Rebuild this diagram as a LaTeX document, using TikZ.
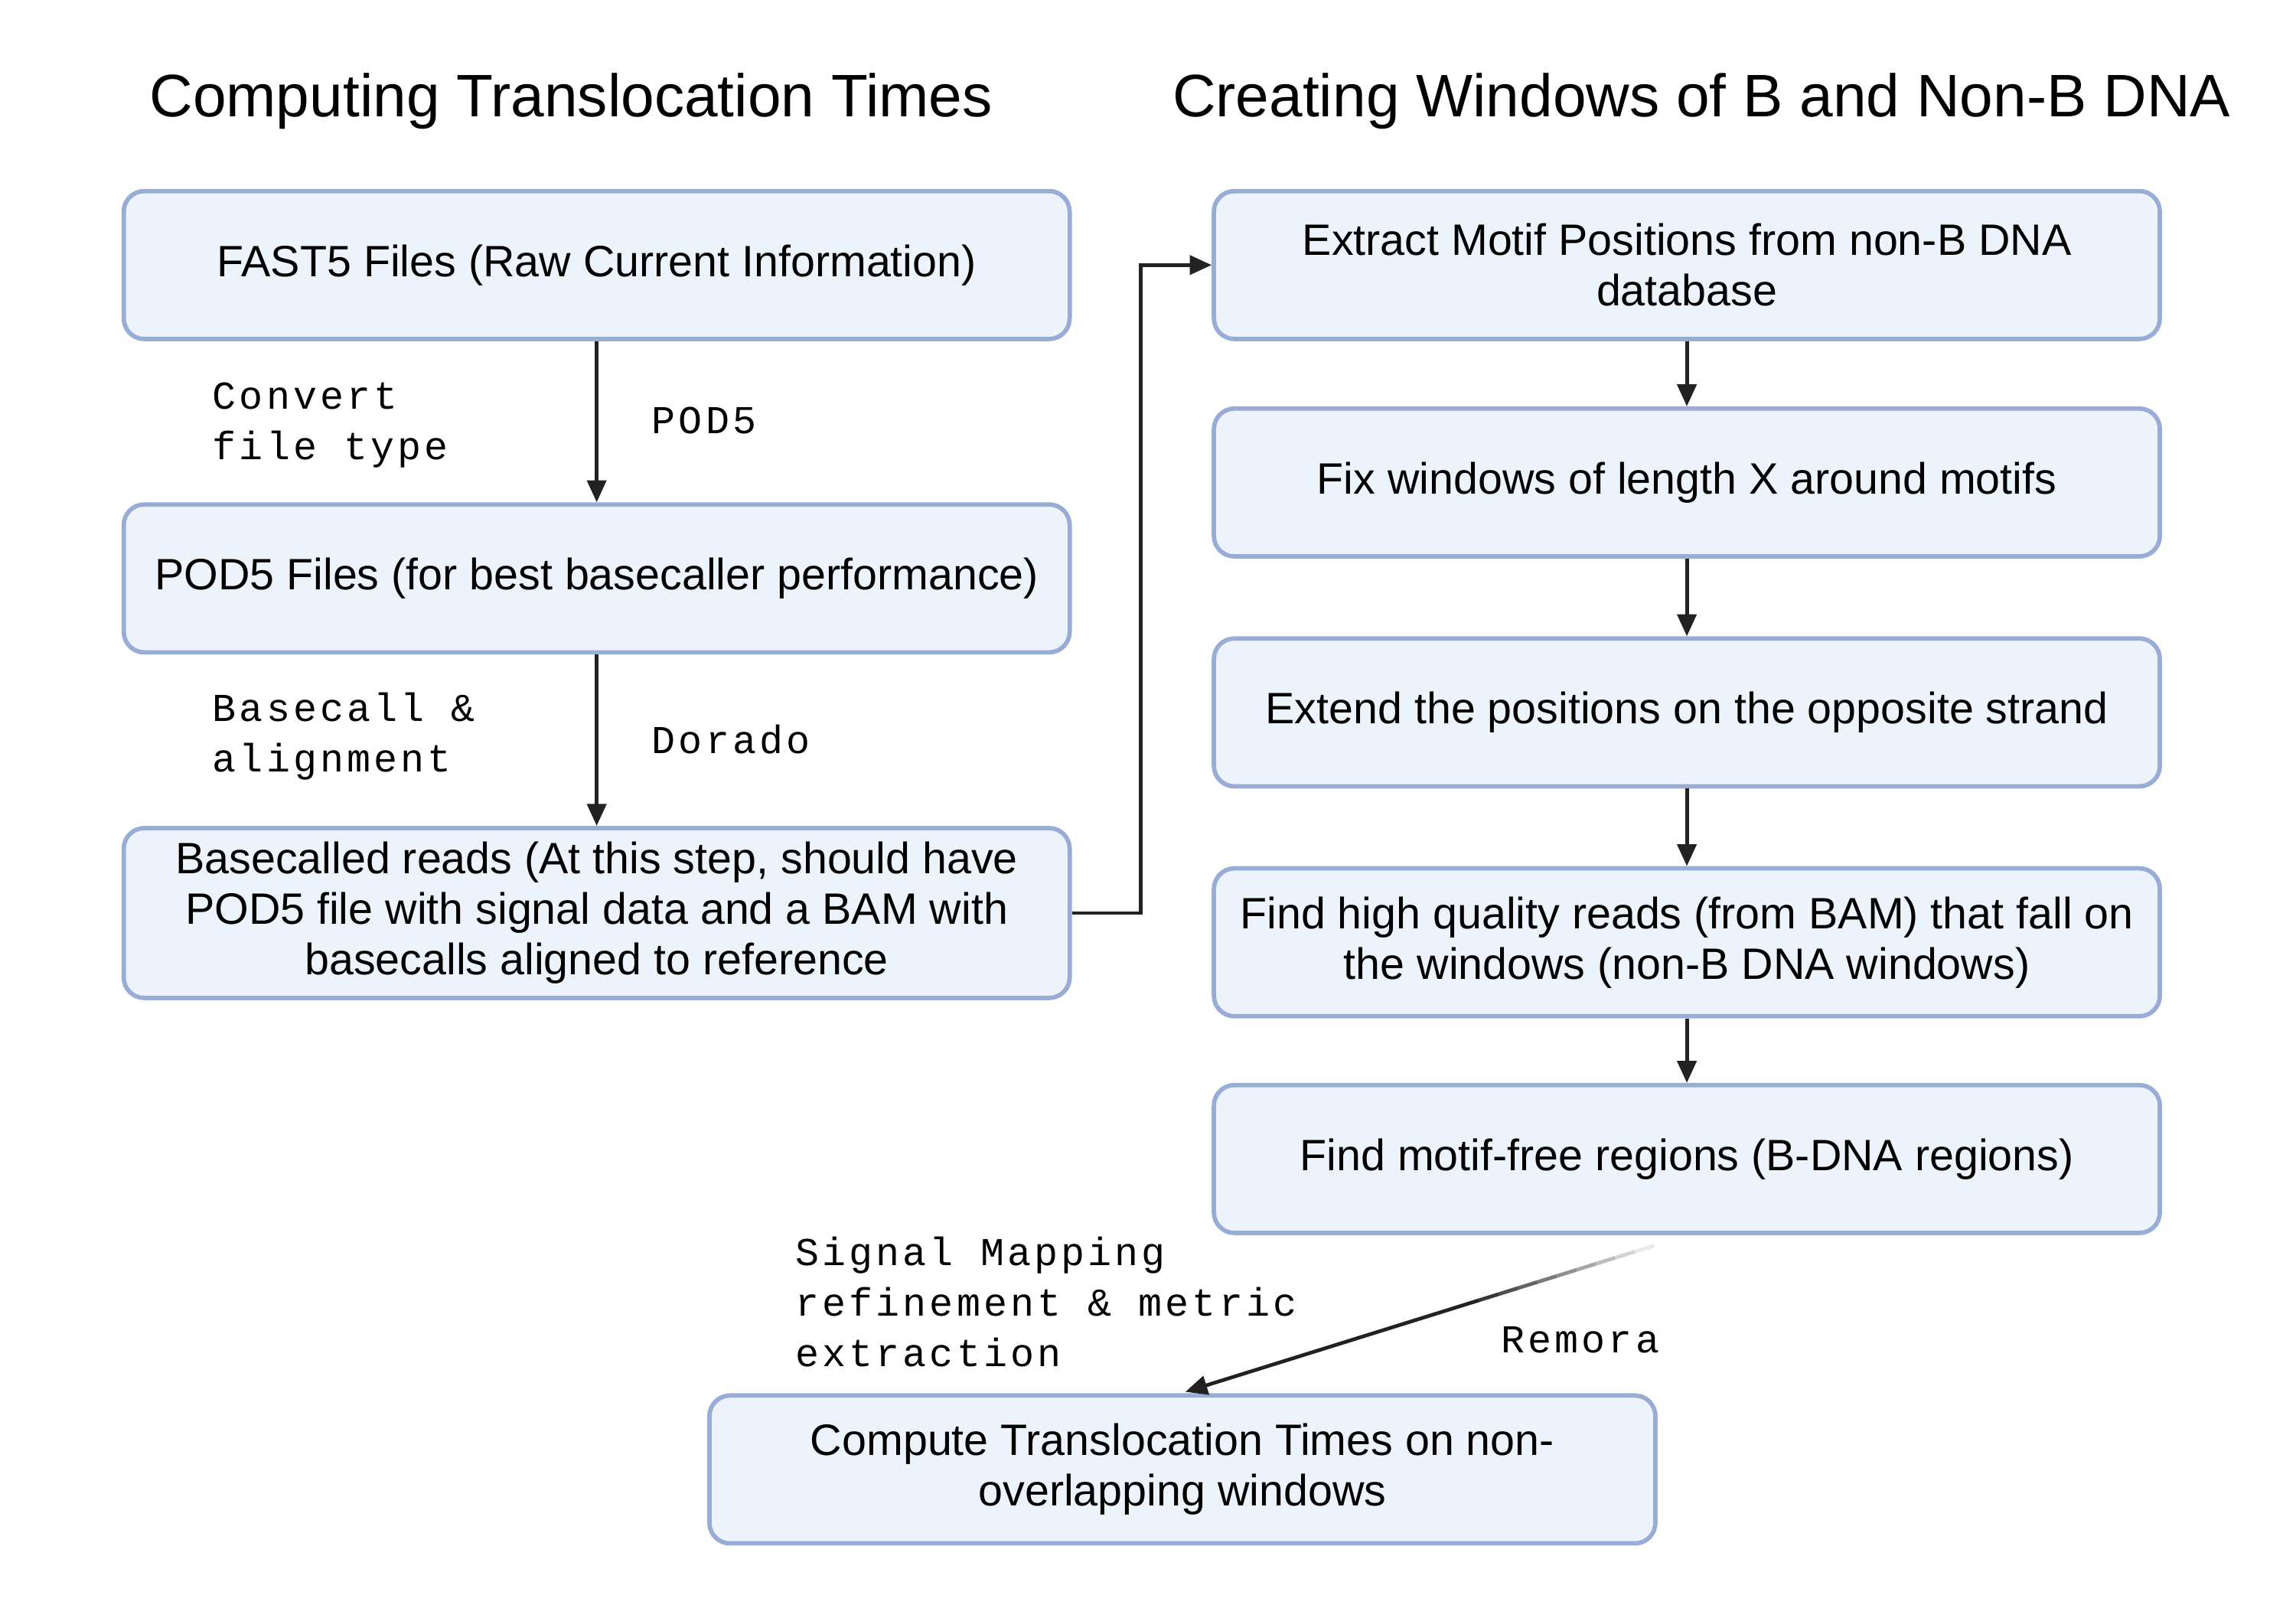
\documentclass[tikz,border=0pt]{standalone}
\usepackage{fontspec}
\setmainfont{Liberation Sans}
\setmonofont[LetterSpace=8]{Liberation Mono}
\usetikzlibrary{arrows.meta,calc}
\definecolor{boxfill}{HTML}{EDF3FB}
\definecolor{boxline}{HTML}{98ACD6}
\definecolor{arrline}{HTML}{222222}
\tikzset{
  box/.style={rectangle, rounded corners=14pt, draw=boxline, line width=3pt, fill=boxfill,
    minimum width=646pt, minimum height=101pt, align=center, inner sep=0pt,
    font=\fontsize{30}{34.5}\selectfont},
  lbl/.style={anchor=west, align=left, inner sep=0pt, font=\ttfamily\fontsize{27}{34.5}\selectfont},
  ttl/.style={inner sep=0pt, font=\fontsize{41}{46}\selectfont},
  arr/.style={-{Triangle[length=15pt,width=13pt]}, line width=2.5pt, arrline},
}

\begin{document}
\begin{tikzpicture}[x=1pt,y=-1pt]
  \useasboundingbox (0,0) rectangle (1568,1097.6);
  % titles
  \node[ttl] (tleft) at (390,69) {Computing Translocation Times};
  \node[ttl] (tright) at (1162,69) {Creating Windows of B and Non-B DNA};
  % left column
  \node[box] (fast) at (407.5,181) {FAST5 Files (Raw Current Information)};
  \node[box] (pod) at (407.5,395) {POD5 Files (for best basecaller performance)};
  \node[box,minimum height=116pt] (called) at (407.5,623.5) {Basecalled reads (At this step, should have\\POD5 file with signal data and a BAM with\\basecalls aligned to reference};
  % right column
  \node[box] (motif) at (1152,181) {Extract Motif Positions from non-B DNA\\database};
  \node[box] (fix) at (1152,329.5) {Fix windows of length X around motifs};
  \node[box] (extend) at (1152,486.5) {Extend the positions on the opposite strand};
  \node[box] (reads) at (1152,643.5) {Find high quality reads (from BAM) that fall on\\the windows (non-B DNA windows)};
  \node[box] (free) at (1152,791.5) {Find motif-free regions (B-DNA regions)};
  % bottom
  \node[box] (comp) at (807.5,1003.5) {Compute Translocation Times on non-\\overlapping windows};
  % labels
  \node[lbl] (lconv) at (145,290.5) {Convert\\file type};
  \node[lbl] (ltool1) at (445,287) {POD5};
  \node[lbl] (lcall) at (145,503) {Basecall \&\\alignment};
  \node[lbl] (ltool2) at (445,505) {Dorado};
  \node[lbl] (lsig) at (543,889) {Signal Mapping\\refinement \& metric\\extraction};
  \node[lbl] (ltool3) at (1025,915) {Remora};
  % arrows
  \draw[arr] (fast) -- (pod);
  \draw[arr] (pod) -- (called);
  \draw[arr] (called.east) -- ++(47,0) |- (motif.west);
  \draw[arr] (motif) -- (fix);
  \draw[arr] (fix) -- (extend);
  \draw[arr] (extend) -- (reads);
  \draw[arr] (reads) -- (free);
  % fading arrow to the last box
  \coordinate (fstart) at ($(free.south)+(-9,3)$);
  \coordinate (fend) at ($(comp.north)+(2,-1)$);
  \foreach \i in {0,...,9}
    \draw[line width=2.5pt, arrline!\the\numexpr\i*10\relax] ($(fstart)!\i/25!(fend)$) -- ($(fstart)!\i/25+0.042!(fend)$);
  \draw[arr] ($(fstart)!0.4!(fend)$) -- (fend);
\end{tikzpicture}
\end{document}
